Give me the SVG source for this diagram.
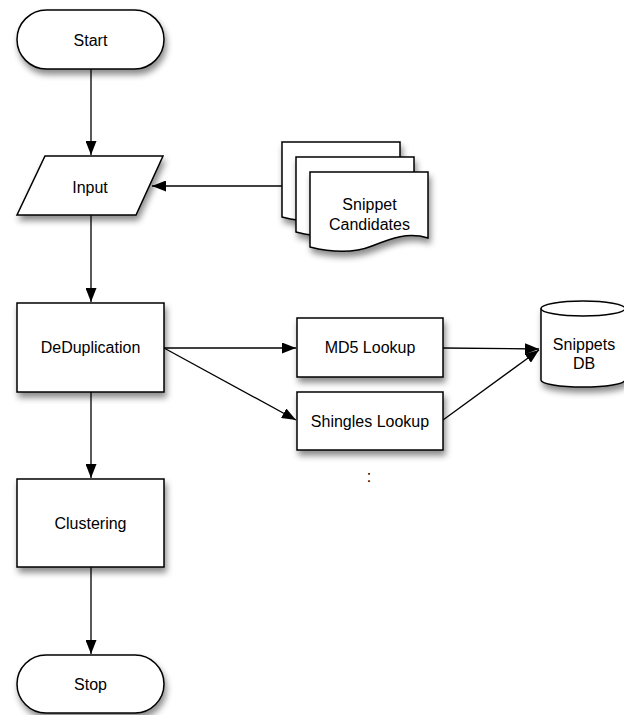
<svg xmlns="http://www.w3.org/2000/svg" width="624" height="715" viewBox="0 0 624 715">
<defs>
<filter id="sh" x="-20%" y="-20%" width="150%" height="160%">
<feDropShadow dx="2" dy="5" stdDeviation="3" flood-color="#000" flood-opacity="0.45"/>
</filter>
<marker id="ah" viewBox="0 0 14 11" refX="14" refY="5.5" markerWidth="14" markerHeight="11" markerUnits="userSpaceOnUse" orient="auto">
<path d="M0,0 L14,5.5 L0,11 Z" fill="#000"/>
</marker>
<path id="doc" d="M0,0 H118 V66 C98,60 82,66 62,74 C42,82 20,80 0,75 Z"/>
</defs>
<style>
.n{fill:#fff;stroke:#000;stroke-width:1.5;filter:url(#sh)}
.t{font-family:"Liberation Sans",Arial,sans-serif;font-size:16px;fill:#000;text-anchor:middle}
.c{fill:none;stroke:#000;stroke-width:1.3}
</style>
<rect width="624" height="715" fill="#fff"/>
<g id="connectors">
<line class="c" x1="91" y1="69" x2="91" y2="155" marker-end="url(#ah)"/>
<line class="c" x1="282" y1="186" x2="152" y2="186" marker-end="url(#ah)"/>
<line class="c" x1="91" y1="215" x2="91" y2="302" marker-end="url(#ah)"/>
<line class="c" x1="164" y1="348" x2="296" y2="348" marker-end="url(#ah)"/>
<line class="c" x1="164" y1="348" x2="296" y2="420" marker-end="url(#ah)"/>
<line class="c" x1="443" y1="348" x2="539" y2="349" marker-end="url(#ah)"/>
<line class="c" x1="443" y1="420" x2="539" y2="350" marker-end="url(#ah)"/>
<line class="c" x1="91" y1="392" x2="91" y2="478" marker-end="url(#ah)"/>
<line class="c" x1="91" y1="567" x2="91" y2="654" marker-end="url(#ah)"/>
</g>
<g id="start">
<rect class="n" x="17" y="10" width="147" height="59" rx="29.5"/>
<text class="t" x="90.5" y="46">Start</text>
</g>
<g id="input">
<path class="n" d="M45,156 H163 L136,215 H17 Z"/>
<text class="t" x="90" y="192.5">Input</text>
</g>
<g id="snippet-candidates">
<use href="#doc" class="n" x="282" y="142"/>
<use href="#doc" class="n" x="296" y="157"/>
<use href="#doc" class="n" x="310" y="172"/>
<text class="t" x="369.5" y="210">Snippet</text>
<text class="t" x="369.5" y="230">Candidates</text>
</g>
<g id="deduplication">
<rect class="n" x="17" y="303" width="147" height="89"/>
<text class="t" x="90.5" y="353">DeDuplication</text>
</g>
<g id="md5-lookup">
<rect class="n" x="297" y="318" width="146" height="59"/>
<text class="t" x="370" y="353">MD5 Lookup</text>
</g>
<g id="shingles-lookup">
<rect class="n" x="297" y="392" width="146" height="58"/>
<text class="t" x="370" y="427">Shingles Lookup</text>
</g>
<g id="ellipsis">
<text class="t" x="369" y="482">:</text>
</g>
<g id="snippets-db">
<path class="n" d="M541,308.5 V380 A42,7 0 0 0 625,380 V308.5 A42,7.5 0 0 0 541,308.5 Z"/>
<path fill="none" stroke="#000" stroke-width="1.5" d="M541,308.5 A42,7.5 0 0 0 625,308.5"/>
<text class="t" x="584" y="350">Snippets</text>
<text class="t" x="584" y="369">DB</text>
</g>
<g id="clustering">
<rect class="n" x="17" y="479" width="147" height="88"/>
<text class="t" x="90.5" y="529">Clustering</text>
</g>
<g id="stop">
<rect class="n" x="17" y="655" width="147" height="58" rx="29"/>
<text class="t" x="90.5" y="690">Stop</text>
</g>
</svg>
